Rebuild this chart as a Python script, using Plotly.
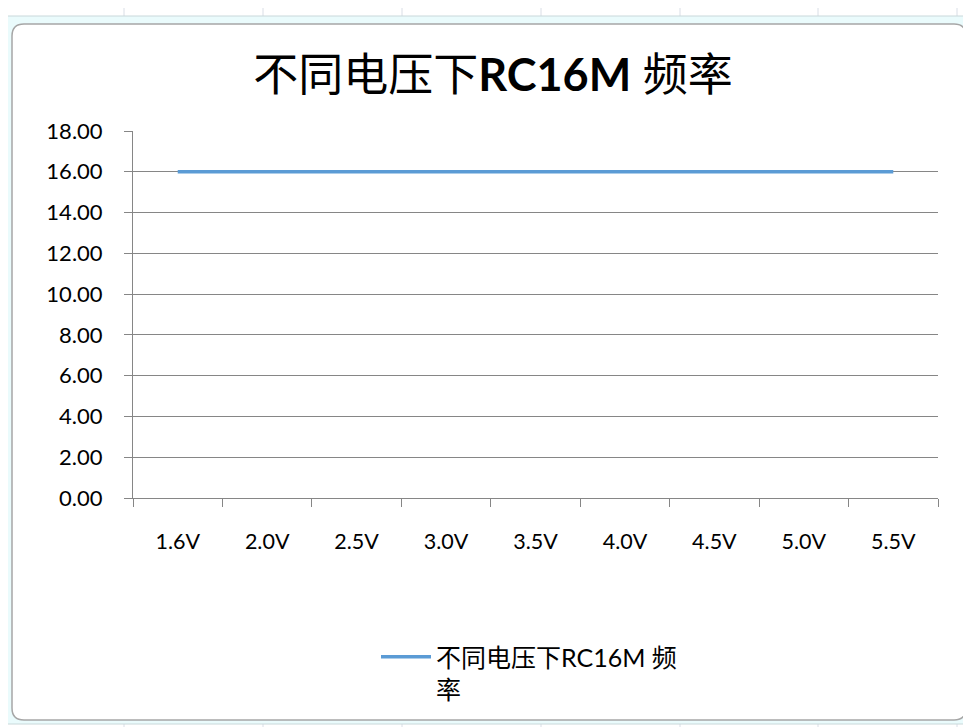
import plotly.graph_objects as go

categories = ["1.6V", "2.0V", "2.5V", "3.0V", "3.5V", "4.0V", "4.5V", "5.0V", "5.5V"]
freq_mhz = [16.0, 16.0, 16.0, 16.0, 16.0, 16.0, 16.0, 16.0, 16.0]
series_name = "不同电压下RC16M 频<br>率"
title_text = "不同电压下<b>RC16M</b> 频率"
y_ticks = [0, 2, 4, 6, 8, 10, 12, 14, 16, 18]

# page body margin of the html page (8px) is compensated
O = 8
W, H = 971, 727
L, R, T, B = 133, 938, 131, 498


def X(px):
    return (px - L) / (R - L)


def Y(py):
    return (B - py) / (B - T)


FONT = "Lato, 'Noto Sans CJK SC', sans-serif"

fig = go.Figure()
fig.add_trace(go.Scatter(
    x=categories, y=freq_mhz, mode="lines", name=series_name,
    line=dict(color="#5B9BD5", width=3.5),
))

shapes = []
for gx in [124, 263, 402, 541, 680, 818, 957]:
    shapes.append(dict(type="line", xref="paper", yref="paper",
                       x0=X(gx), x1=X(gx), y0=Y(0), y1=Y(16),
                       line=dict(color="#D9DEE6", width=1), layer="below"))
    shapes.append(dict(type="line", xref="paper", yref="paper",
                       x0=X(gx), x1=X(gx), y0=Y(722), y1=Y(727),
                       line=dict(color="#D9DEE6", width=1), layer="below"))
shapes.append(dict(type="rect", xref="paper", yref="paper",
                   x0=X(6), x1=X(975), y0=Y(16), y1=Y(724),
                   line=dict(color="#C9D8DA", width=1), fillcolor="#EAFBFC", layer="below"))
x0, x1, y0, y1, r = 12, 966, 24, 720, 12
path = (f"M {X(x0 + r)},{Y(y0)} L {X(x1 - r)},{Y(y0)} "
        f"Q {X(x1)},{Y(y0)} {X(x1)},{Y(y0 + r)} L {X(x1)},{Y(y1 - r)} "
        f"Q {X(x1)},{Y(y1)} {X(x1 - r)},{Y(y1)} L {X(x0 + r)},{Y(y1)} "
        f"Q {X(x0)},{Y(y1)} {X(x0)},{Y(y1 - r)} L {X(x0)},{Y(y0 + r)} "
        f"Q {X(x0)},{Y(y0)} {X(x0 + r)},{Y(y0)} Z")
shapes.append(dict(type="path", xref="paper", yref="paper", path=path,
                   line=dict(color="#A6A6A6", width=1.5), fillcolor="white", layer="below"))

fig.update_layout(
    width=W - O, height=H - O,
    margin=dict(l=L - O, r=W - R, t=T - O, b=H - B, pad=0),
    paper_bgcolor="white", plot_bgcolor="rgba(0,0,0,0)",
    font=dict(family=FONT, color="#000000"),
    title=dict(text=title_text, x=(493 - O) / (W - O), xanchor="center",
               y=1 - (75 - O) / (H - O), yanchor="middle",
               xref="container", yref="container",
               font=dict(family=FONT, size=45, color="#000000")),
    shapes=shapes,
    showlegend=True,
    legend=dict(x=X(376), y=Y(634), xanchor="left", yanchor="top", valign="top",
                font=dict(family=FONT, size=25, color="#000000"),
                bgcolor="rgba(0,0,0,0)", itemwidth=50),
    xaxis=dict(type="category", tickson="boundaries", ticks="outside", ticklen=8,
               tickcolor="#868686", showline=True, linecolor="#868686", linewidth=1,
               showgrid=False, tickfont=dict(family=FONT, size=21.5, color="#000000"),
               ticklabelstandoff=24, range=[-0.5, len(categories) - 0.5]),
    yaxis=dict(range=[0, 18], tickvals=y_ticks, tickformat=".2f", ticks="outside", ticklen=8,
               tickcolor="#868686", showline=True, linecolor="#868686", linewidth=1,
               showgrid=True, gridcolor="#868686", gridwidth=1, zeroline=False,
               tickfont=dict(family=FONT, size=22, color="#000000"), ticklabelstandoff=17),
)

fig.write_html("out.html")
